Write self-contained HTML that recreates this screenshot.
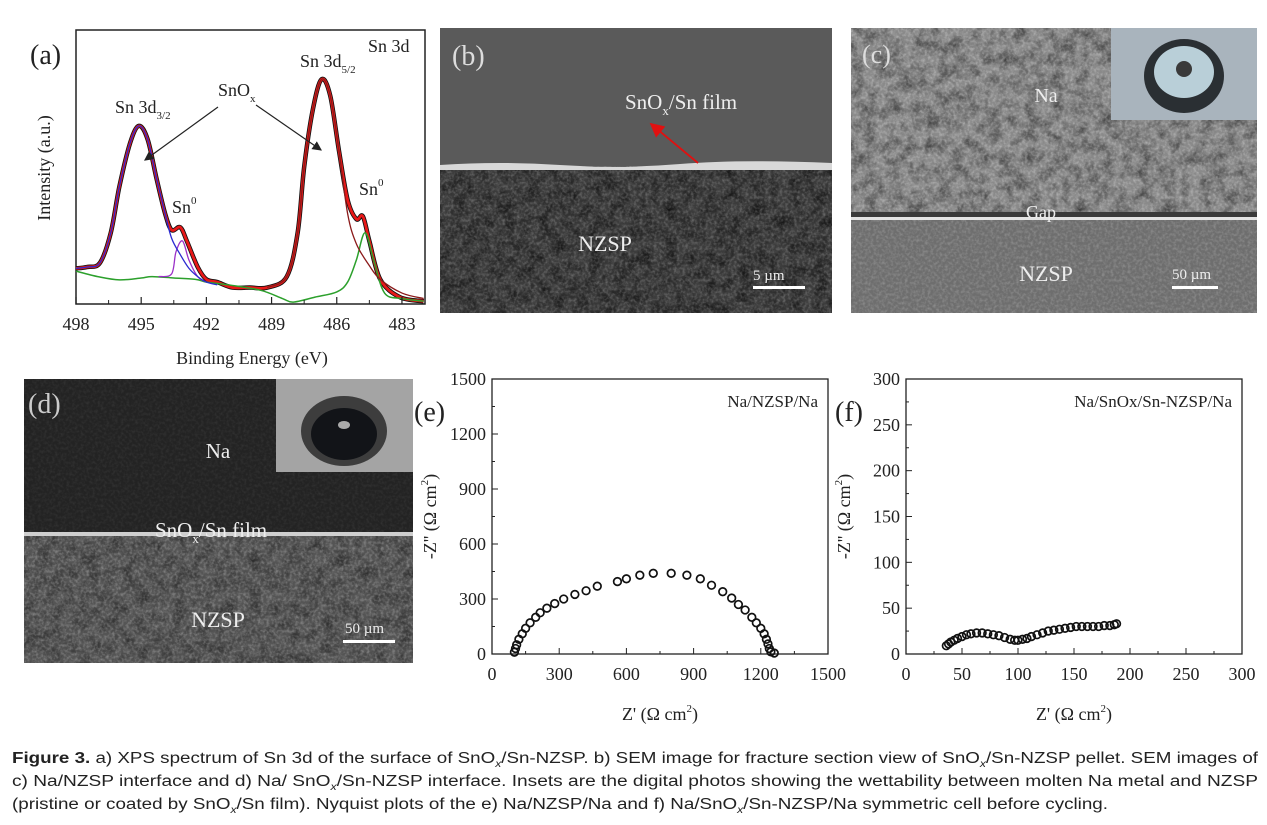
<!DOCTYPE html>
<html><head><meta charset="utf-8">
<style>
html,body{margin:0;padding:0;background:#fff;}
svg{display:block;}
text{font-family:"Liberation Serif",serif;fill:#222;}
.cap{font-family:"Liberation Sans",sans-serif;font-size:15.5px;fill:#222;}
</style></head>
<body>
<svg id="fig" width="1267" height="825" viewBox="0 0 1267 825" xmlns="http://www.w3.org/2000/svg">
<defs>
<filter id="noiseFine" x="0" y="0" width="100%" height="100%">
<feTurbulence type="fractalNoise" baseFrequency="0.35" numOctaves="2" seed="3"/>
<feColorMatrix type="matrix" values="0 0 0 0 1  0 0 0 0 1  0 0 0 0 1  0 0 0 0.9 -0.35"/>
</filter>
<filter id="noiseCoarse" x="0" y="0" width="100%" height="100%">
<feTurbulence type="fractalNoise" baseFrequency="0.08" numOctaves="3" seed="7"/>
<feColorMatrix type="matrix" values="0 0 0 0 0  0 0 0 0 0  0 0 0 0 0  0 0 0 1.2 -0.45"/>
</filter>
<marker id="arrB" markerWidth="8" markerHeight="8" refX="7" refY="4" orient="auto"><path d="M0,0 L8,4 L0,8 Z" fill="#222"/></marker>
<marker id="arrR" markerWidth="8" markerHeight="8" refX="7" refY="4" orient="auto"><path d="M0,0 L8,4 L0,8 Z" fill="#e01010"/></marker>
</defs>

<!-- Panel (a) XPS -->
<g id="panelA">
<rect x="76" y="30" width="349" height="274" fill="none" stroke="#222" stroke-width="1.5"/>
<g id="xpsCurves"></g>
<g id="xpsTicks"></g>
<text x="30" y="64" font-size="28">(a)</text>
<text x="252" y="364" font-size="18" text-anchor="middle">Binding Energy (eV)</text>
<text transform="translate(50,168) rotate(-90)" font-size="18" text-anchor="middle">Intensity (a.u.)</text>
<text x="368" y="52" font-size="18">Sn 3d</text>
<text x="300" y="67" font-size="18">Sn 3d<tspan font-size="11" dy="6">5/2</tspan></text>
<text x="115" y="113" font-size="18">Sn 3d<tspan font-size="11" dy="6">3/2</tspan></text>
<text x="218" y="96" font-size="18">SnO<tspan font-size="11" dy="6">x</tspan></text>
<text x="172" y="213" font-size="18">Sn<tspan font-size="11" dy="-9">0</tspan></text>
<text x="359" y="195" font-size="18">Sn<tspan font-size="11" dy="-9">0</tspan></text>
<line x1="218" y1="107" x2="145" y2="160" stroke="#222" stroke-width="1.2" marker-end="url(#arrB)"/>
<line x1="256" y1="105" x2="321" y2="150" stroke="#222" stroke-width="1.2" marker-end="url(#arrB)"/>
</g>

<!-- Panel (b) SEM -->
<g>
<svg x="440" y="28" width="392" height="285" overflow="hidden">
<rect width="392" height="285" fill="#5a5a5a"/>
<rect y="138" width="392" height="147" fill="#3c3c3c"/>
<rect y="138" width="392" height="147" filter="url(#noiseCoarse)"/>
<rect y="138" width="392" height="147" filter="url(#noiseFine)" opacity="0.5"/>
<path d="M0,137 Q60,133 120,137 T240,136 T392,135 L392,142 L0,142 Z" fill="#d8d8d8"/>
</svg>
<text x="452" y="65" font-size="28" style="fill:#ddd">(b)</text>
<text x="625" y="109" font-size="21" style="fill:#eee">SnO<tspan font-size="13" dy="6">x</tspan><tspan dy="-6">/Sn film</tspan></text>
<line x1="698" y1="163" x2="651" y2="124" stroke="#e01010" stroke-width="1.8" marker-end="url(#arrR)"/>
<text x="605" y="251" font-size="22" text-anchor="middle" style="fill:#eee">NZSP</text>
<text x="753" y="280" font-size="15" style="fill:#eee">5 µm</text>
<rect x="753" y="286" width="52" height="3" fill="#fff"/>
</g>

<!-- Panel (c) SEM -->
<g>
<svg x="851" y="28" width="406" height="285" overflow="hidden">
<rect width="406" height="285" fill="#8a8a8a"/>
<rect width="406" height="190" filter="url(#noiseCoarse)" opacity="0.8"/>
<rect width="406" height="190" filter="url(#noiseFine)" opacity="0.7"/>
<rect y="192" width="406" height="93" fill="#6e6e6e"/>
<rect y="192" width="406" height="93" filter="url(#noiseFine)" opacity="0.45"/>
<rect y="184" width="406" height="6" fill="#3a3a3a"/>
<rect y="189" width="406" height="3" fill="#e4e4e4"/>
<rect x="260" y="0" width="146" height="92" fill="#a9b4bd"/>
<ellipse cx="333" cy="48" rx="40" ry="37" fill="#2a2f33"/>
<ellipse cx="333" cy="44" rx="30" ry="26" fill="#b9cfd8"/>
<ellipse cx="333" cy="41" rx="8" ry="8" fill="#3a3a3a"/>
</svg>
<text x="862" y="63" font-size="26" style="fill:#ddd">(c)</text>
<text x="1046" y="102" font-size="20" text-anchor="middle" style="fill:#eee">Na</text>
<text x="1041" y="218" font-size="18" text-anchor="middle" style="fill:#eee">Gap</text>
<text x="1046" y="281" font-size="22" text-anchor="middle" style="fill:#eee">NZSP</text>
<text x="1172" y="279" font-size="15" style="fill:#eee">50 µm</text>
<rect x="1172" y="286" width="46" height="3" fill="#fff"/>
</g>

<!-- Panel (d) SEM -->
<g>
<svg x="24" y="379" width="389" height="284" overflow="hidden">
<rect width="389" height="284" fill="#232323"/>
<rect width="389" height="155" filter="url(#noiseFine)" opacity="0.15"/>
<rect y="156" width="389" height="128" fill="#555"/>
<rect y="156" width="389" height="128" filter="url(#noiseCoarse)" opacity="0.7"/>
<rect y="156" width="389" height="128" filter="url(#noiseFine)" opacity="0.6"/>
<rect y="153" width="389" height="4" fill="#cfcfcf"/>
<rect x="252" y="0" width="137" height="93" fill="#a4a4a4"/>
<ellipse cx="320" cy="52" rx="43" ry="35" fill="#3d3d3d"/>
<ellipse cx="320" cy="55" rx="33" ry="26" fill="#121418"/>
<ellipse cx="320" cy="46" rx="6" ry="4" fill="#aaa"/>
</svg>
<text x="28" y="413" font-size="28" style="fill:#ccc">(d)</text>
<text x="218" y="458" font-size="21" text-anchor="middle" style="fill:#eee">Na</text>
<text x="155" y="537" font-size="21" style="fill:#eee">SnO<tspan font-size="13" dy="6">x</tspan><tspan dy="-6">/Sn film</tspan></text>
<text x="218" y="627" font-size="22" text-anchor="middle" style="fill:#eee">NZSP</text>
<text x="345" y="633" font-size="15" style="fill:#eee">50 µm</text>
<rect x="343" y="640" width="52" height="3" fill="#fff"/>
</g>

<!-- Panels (e) and (f) Nyquist -->
<g id="panelE"></g>
<g id="panelF"></g>

<!-- Caption -->
<g>
<text class="cap" x="12" y="763" textLength="1246" lengthAdjust="spacingAndGlyphs"><tspan font-weight="bold">Figure 3.</tspan>  a) XPS spectrum of Sn 3d of the surface of SnO<tspan font-size="10" dy="4" font-style="italic">x</tspan><tspan dy="-4">/Sn-NZSP. b) SEM image for fracture section view of SnO</tspan><tspan font-size="10" dy="4" font-style="italic">x</tspan><tspan dy="-4">/Sn-NZSP pellet. SEM images of</tspan></text>
<text class="cap" x="12" y="786" textLength="1246" lengthAdjust="spacingAndGlyphs">c) Na/NZSP interface and d) Na/ SnO<tspan font-size="10" dy="4" font-style="italic">x</tspan><tspan dy="-4">/Sn-NZSP interface. Insets are the digital photos showing the wettability between molten Na metal and NZSP</tspan></text>
<text class="cap" x="12" y="809" textLength="1096" lengthAdjust="spacingAndGlyphs">(pristine or coated by SnO<tspan font-size="10" dy="4" font-style="italic">x</tspan><tspan dy="-4">/Sn film). Nyquist plots of the e) Na/NZSP/Na and f) Na/SnO</tspan><tspan font-size="10" dy="4" font-style="italic">x</tspan><tspan dy="-4">/Sn-NZSP/Na symmetric cell before cycling.</tspan></text>
</g>
</svg>

<script>
// ---------- XPS data (binding energy eV, intensity a.u. 0-100) ----------
const xpsEnergy   = [498,497.5,496.9,496.4,496,495.5,495.1,494.7,494.3,493.9,493.6,493.2,492.9,492.4,492,491.5,490.8,490,489.2,488.3,487.8,487.5,487.1,486.7,486.3,485.9,485.5,485.1,484.8,484.5,484,483.1,482];
const xpsEnvelope = [13,13.5,15,26,43,59,65,60,46,33,27,28,23,13.5,9,8,6,6,6,10,26,50,71,82,76,56,38,31,32,23,9,2.5,1];
const blueEnergy  = [498,497.5,496.9,496.4,496,495.5,495.1,494.7,494.3,493.9,493.6,493.2,492.8,492.4,492,491.5];
const blueValues  = [13,13.5,15,26,43,59,65,60,46,33,24,18,13,10,8,7];
const purpEnergy  = [494.2,493.6,493.4,493.1,492.8,492.4,492];
const purpValues  = [10,11,19,23,16,10,8];
const darkEnergy  = [489.2,488.3,487.8,487.5,487.1,486.7,486.3,485.9,485.5,485.1,484.5,484,483,482];
const darkValues  = [6,10,26,50,71,82,76,56,33,22,14,9,4,2];
const greenEnergy = [498,497,496,495,494.5,493.5,492.5,492,491,489.5,488.5,488,487,486,485.5,485.1,484.7,484.3,483.8,483,482];
const greenValues = [12,10,8.8,9.5,10,9.5,9,8,7,5,2,0.7,2.5,4.4,8,16,26,16,4,2,1];
const xpsTicks    = [498,495,492,489,486,483];
const xpsMinor    = [496.5,493.5,490.5,487.5,484.5];

// ---------- Nyquist (e) ----------
const eZre = [100,105,110,120,135,150,170,195,215,245,280,320,370,420,470,560,600,660,720,800,870,930,980,1030,1070,1100,1130,1160,1180,1200,1215,1225,1232,1238,1245,1260];
const eZim = [10,30,50,80,110,140,170,200,225,250,275,300,325,345,370,395,410,430,440,440,430,410,375,340,305,270,240,200,170,140,110,80,55,30,12,5];
const eTicks = [0,300,600,900,1200,1500];
// ---------- Nyquist (f) ----------
const fZre = [36,38,40,43,46,50,54,58,63,68,73,78,83,88,93,97,100,104,108,112,117,122,127,132,137,142,147,152,157,162,167,172,177,182,186,188];
const fZim = [9,11,13,15,17,19,21,22,23,23,22,21,20,18,16,15,15,16,17,19,21,23,25,26,27,28,29,30,30,30,30,30,31,31,32,33];
const fTicks = [0,50,100,150,200,250,300];

const NS = "http://www.w3.org/2000/svg";
function mk(tag, attrs, parent){ const e=document.createElementNS(NS,tag); for(const k in attrs) e.setAttribute(k,attrs[k]); parent.appendChild(e); return e; }
function smooth(pts){
  let d="M"+pts[0][0]+","+pts[0][1];
  for(let i=0;i<pts.length-1;i++){
    const p0=pts[i-1]||pts[i], p1=pts[i], p2=pts[i+1], p3=pts[i+2]||p2;
    const c1=[p1[0]+(p2[0]-p0[0])/6, p1[1]+(p2[1]-p0[1])/6];
    const c2=[p2[0]-(p3[0]-p1[0])/6, p2[1]-(p3[1]-p1[1])/6];
    d+=" C"+c1[0]+","+c1[1]+" "+c2[0]+","+c2[1]+" "+p2[0]+","+p2[1];
  }
  return d;
}

// XPS axes
const xE = e => 76 + (498 - e) * 21.73;
const yI = v => 304 - v * 2.74;
const xc = document.getElementById('xpsCurves');
function curve(E, V, color, w, name){
  const p = mk('path', {d: smooth(E.map((e,i)=>[xE(e), yI(V[i])])), fill:'none', stroke:color, 'stroke-width':w}, xc);
  
  
}
curve(xpsEnergy, xpsEnvelope, '#111', 4.5, 'raw-data-curve');
curve(xpsEnergy, xpsEnvelope, '#e81818', 2.8, 'fit-envelope-curve');
curve(greenEnergy, greenValues, '#2ca02c', 1.5, 'background-sn0-curve');
curve(purpEnergy, purpValues, '#9b30c8', 1.3, 'sn0-3d32-curve');
curve(blueEnergy, blueValues, '#2a2ad0', 1.3, 'snox-3d32-curve');
curve(darkEnergy, darkValues, '#8b1a1a', 1.3, 'snox-3d52-curve');
const xt = document.getElementById('xpsTicks');
xpsTicks.forEach(t => {
  const l = mk('line', {x1:xE(t), x2:xE(t), y1:304, y2:297, stroke:'#222', 'stroke-width':1.2}, xt);
  
  
  const s = mk('text', {x:xE(t), y:330, 'font-size':18, 'text-anchor':'middle'}, xt);
  s.textContent = t;
  
  
});
xpsMinor.forEach(t => {
  const l = mk('line', {x1:xE(t), x2:xE(t), y1:304, y2:300, stroke:'#222', 'stroke-width':1}, xt);
  
  
});

function nyquist(gid, L, R, T, B, max, ticks, X, Y, label, title, lblX){
  const g = document.getElementById(gid);
  const sx = v => L + v/max*(R-L), sy = v => B - v/max*(B-T);
  const fr = mk('rect', {x:L, y:T, width:R-L, height:B-T, fill:'none', stroke:'#222', 'stroke-width':1.3}, g);
  
  
  ticks.forEach((t,i) => {
    const a = mk('line', {x1:sx(t), x2:sx(t), y1:B, y2:B-6, stroke:'#222'}, g);
    
    
    const b = mk('line', {x1:L, x2:L+6, y1:sy(t), y2:sy(t), stroke:'#222'}, g);
    
    
    if (i < ticks.length-1) {
      const m = (t + ticks[i+1]) / 2;
      const c = mk('line', {x1:sx(m), x2:sx(m), y1:B, y2:B-3, stroke:'#222'}, g);
      
      
      const d = mk('line', {x1:L, x2:L+3, y1:sy(m), y2:sy(m), stroke:'#222'}, g);
      
      
    }
    const tx = mk('text', {x:sx(t), y:B+26, 'font-size':18, 'text-anchor':'middle'}, g);
    tx.textContent = t;
    
    
    const ty = mk('text', {x:L-6, y:sy(t)+6, 'font-size':18, 'text-anchor':'end'}, g);
    ty.textContent = t;
    
    
  });
  X.forEach((v,i) => {
    const c = mk('circle', {cx:sx(v), cy:sy(Y[i]), r:3.8, fill:'none', stroke:'#111', 'stroke-width':1.7}, g);
    
    
  });
  const pl = mk('text', {x:lblX, y:T+42, 'font-size':28}, g);
  pl.textContent = label;
  
  
  const ti = mk('text', {x:R-10, y:T+28, 'font-size':17, 'text-anchor':'end'}, g);
  ti.textContent = title;
  
  
  const xa = mk('text', {x:(L+R)/2, y:B+66, 'font-size':18, 'text-anchor':'middle'}, g);
  xa.innerHTML = "Z' (Ω cm<tspan font-size='11' dy='-8'>2</tspan><tspan dy='8'>)</tspan>";
  
  
  const ya = mk('text', {transform:'translate('+(L-56)+','+((T+B)/2)+') rotate(-90)', 'font-size':18, 'text-anchor':'middle'}, g);
  ya.innerHTML = "-Z'' (Ω cm<tspan font-size='11' dy='-8'>2</tspan><tspan dy='8'>)</tspan>";
  
  
}
nyquist('panelE', 492, 828, 379, 654, 1500, eTicks, eZre, eZim, '(e)', 'Na/NZSP/Na', 414);
nyquist('panelF', 906, 1242, 379, 654, 300, fTicks, fZre, fZim, '(f)', 'Na/SnOx/Sn-NZSP/Na', 835);
</script>
</body></html>
